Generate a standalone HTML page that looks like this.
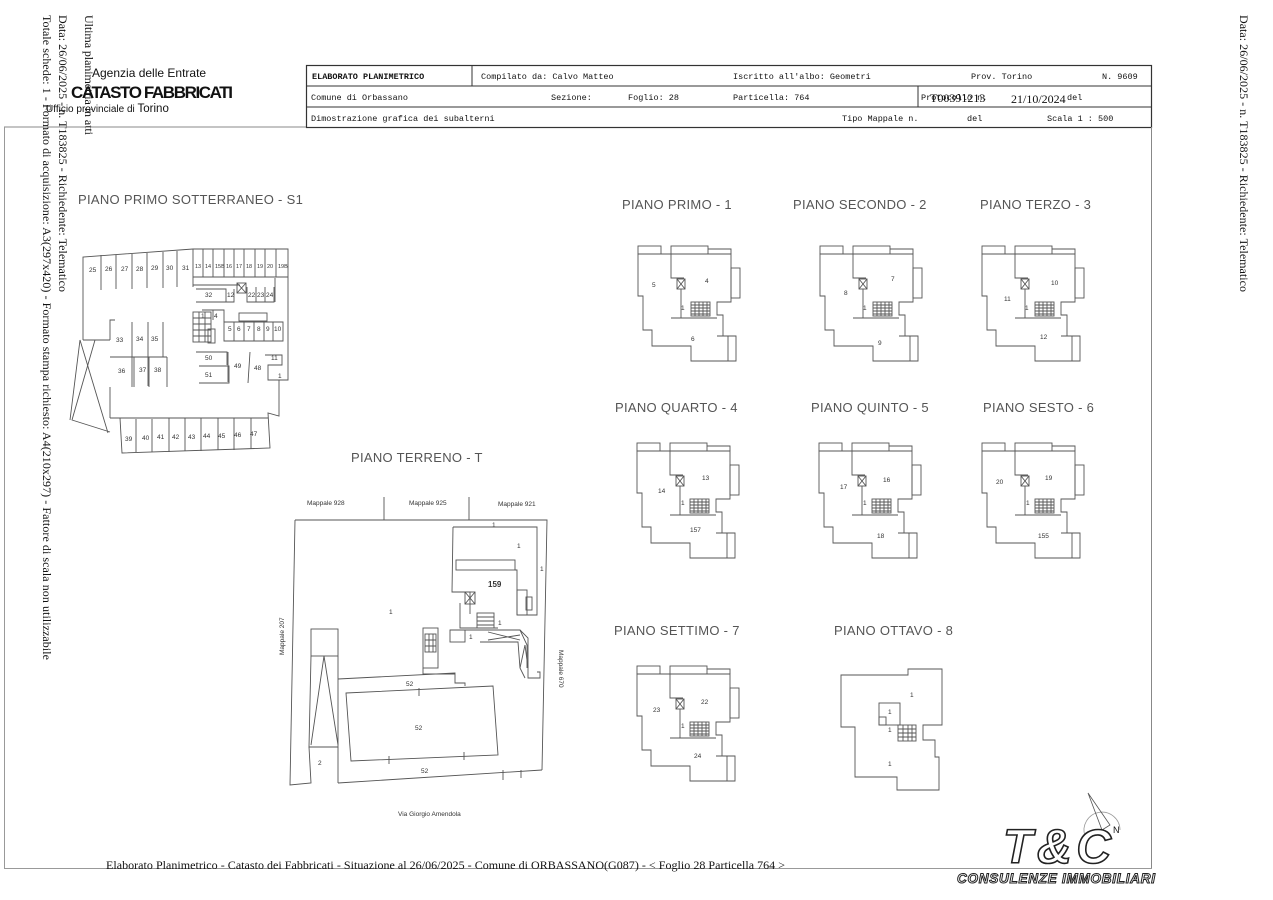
<!DOCTYPE html>
<html><head><meta charset="utf-8"><style>
html,body{margin:0;padding:0;background:#fff;}
svg{display:block;}
.m{font-family:"Liberation Mono",monospace;font-size:8.5px;fill:#111;}
.t{font-family:"Liberation Sans",sans-serif;font-size:13px;fill:#555;letter-spacing:0.3px;}
.n{font-family:"Liberation Sans",sans-serif;font-size:6.5px;fill:#333;}
.s{font-family:"Liberation Serif",serif;font-size:12px;fill:#111;}
.p{fill:none;stroke:#555;stroke-width:0.9;}
</style></head><body>
<svg width="1273" height="900" viewBox="0 0 1273 900" xmlns="http://www.w3.org/2000/svg">
<defs>
<g id="fp">
 <rect x="0" y="0" width="23" height="8" class="p"/>
 <rect x="33" y="0" width="37" height="8" class="p"/>
 <polyline points="70,3 93,3 93,8" class="p"/>
 <polygon points="0,8 93,8 93,56 79,56 79,69 85,69 85,90 98,90 98,115 53,115 53,100 14,100 14,84 5,84 5,50 0,50" class="p"/>
 <rect x="93" y="22" width="9" height="30" class="p"/>
 <polyline points="33,8 33,32 46,32" class="p"/>
 <rect x="39" y="33" width="8" height="10" class="p"/>
 <path d="M39,33 L47,43 M47,33 L39,43" class="p"/>
 <line x1="43" y1="43" x2="43" y2="72" class="p"/>
 <line x1="33" y1="72" x2="79" y2="72" class="p"/>
 <rect x="53" y="56" width="19" height="14" class="p"/>
 <path d="M53,59 H72 M53,62 H72 M53,65 H72 M53,68 H72 M57,56 V70 M61,56 V70 M65,56 V70 M69,56 V70" class="p" stroke-width="0.6"/>
 <line x1="79" y1="90" x2="98" y2="90" class="p"/>
 <line x1="90" y1="90" x2="90" y2="115" class="p"/>
</g>
</defs>

<text class="s" transform="translate(85,15) rotate(90)" textLength="120">Ultima planimetria in atti</text>
<text class="s" transform="translate(59,15) rotate(90)" textLength="277">Data: 26/06/2025 - n. T183825 - Richiedente: Telematico</text>
<text class="s" transform="translate(43,15) rotate(90)" textLength="645">Totale schede: 1 - Formato di acquisizione: A3(297x420) - Formato stampa richiesto: A4(210x297) - Fattore di scala non utilizzabile</text>
<text class="s" transform="translate(1240,15) rotate(90)" textLength="277">Data: 26/06/2025 - n. T183825 - Richiedente: Telematico</text>

<text x="92" y="77" font-family="Liberation Sans,sans-serif" font-size="12" fill="#111">Agenzia delle Entrate</text>
<text x="71" y="98" font-family="Liberation Sans,sans-serif" font-size="17" font-weight="bold" fill="#111" textLength="162">CATASTO FABBRICATI</text>
<text x="46" y="112" font-family="Liberation Sans,sans-serif" font-size="10" fill="#111">Ufficio provinciale di <tspan font-size="11.5">Torino</tspan></text>

<rect x="306.5" y="65.5" width="845" height="62" fill="none" stroke="#333" stroke-width="1.2"/>
<line x1="306" y1="86" x2="1152" y2="86" stroke="#333"/>
<line x1="306" y1="107" x2="1152" y2="107" stroke="#333"/>
<line x1="472" y1="65" x2="472" y2="86" stroke="#333"/>
<line x1="918" y1="86" x2="918" y2="107" stroke="#333"/>
<text x="312" y="79" class="m" font-size="10" font-weight="bold">ELABORATO PLANIMETRICO</text>
<text x="481" y="79" class="m">Compilato da: Calvo Matteo</text>
<text x="733" y="79" class="m">Iscritto all'albo: Geometri</text>
<text x="971" y="79" class="m">Prov. Torino</text>
<text x="1102" y="79" class="m">N. 9609</text>
<text x="311" y="100" class="m">Comune di Orbassano</text>
<text x="551" y="100" class="m">Sezione:</text>
<text x="628" y="100" class="m">Foglio: 28</text>
<text x="733" y="100" class="m">Particella: 764</text>
<text x="921" y="100" class="m">Protocollo n.</text>
<text x="930" y="102" class="s" font-size="10">T00391213</text>
<text x="1011" y="103" class="s" font-size="10">21/10/2024</text>
<text x="1067" y="100" class="m">del</text>
<text x="311" y="121" class="m">Dimostrazione grafica dei subalterni</text>
<text x="842" y="121" class="m">Tipo Mappale n.</text>
<text x="967" y="121" class="m">del</text>
<text x="1047" y="121" class="m">Scala 1 : 500</text>

<polyline points="4,127 306,127" fill="none" stroke="#888"/>
<line x1="4.5" y1="127" x2="4.5" y2="868" stroke="#999"/>
<line x1="1151.5" y1="127" x2="1151.5" y2="868" stroke="#888"/>
<line x1="4" y1="868.5" x2="1152" y2="868.5" stroke="#999"/>

<text x="78" y="204" class="t">PIANO PRIMO SOTTERRANEO - S1</text>
<text x="351" y="462" class="t">PIANO TERRENO - T</text>
<text x="622" y="209" class="t">PIANO PRIMO - 1</text>
<text x="793" y="209" class="t">PIANO SECONDO - 2</text>
<text x="980" y="209" class="t">PIANO TERZO - 3</text>
<text x="615" y="412" class="t">PIANO QUARTO - 4</text>
<text x="811" y="412" class="t">PIANO QUINTO - 5</text>
<text x="983" y="412" class="t">PIANO SESTO - 6</text>
<text x="614" y="635" class="t">PIANO SETTIMO - 7</text>
<text x="834" y="635" class="t">PIANO OTTAVO - 8</text>

<use href="#fp" x="638" y="246"/>
<use href="#fp" x="820" y="246"/>
<use href="#fp" x="982" y="246"/>
<use href="#fp" x="637" y="443"/>
<use href="#fp" x="819" y="443"/>
<use href="#fp" x="982" y="443"/>
<use href="#fp" x="637" y="666"/>
<g class="n">
<text x="652" y="287">5</text><text x="705" y="283">4</text><text x="691" y="341">6</text><text x="681" y="310">1</text>
<text x="844" y="295">8</text><text x="891" y="281">7</text><text x="878" y="345">9</text><text x="863" y="310">1</text>
<text x="1004" y="301">11</text><text x="1051" y="285">10</text><text x="1040" y="339">12</text><text x="1025" y="310">1</text>
<text x="658" y="493">14</text><text x="702" y="480">13</text><text x="690" y="532">157</text><text x="681" y="505">1</text>
<text x="840" y="489">17</text><text x="883" y="482">16</text><text x="877" y="538">18</text><text x="863" y="505">1</text>
<text x="996" y="484">20</text><text x="1045" y="480">19</text><text x="1038" y="538">155</text><text x="1026" y="505">1</text>
<text x="653" y="712">23</text><text x="701" y="704">22</text><text x="694" y="758">24</text><text x="681" y="728">1</text>
</g>

<polygon points="841,675 908,675 908,669 942,669 942,725 923,725 923,740 935,740 935,757 939,757 939,790 897,790 897,777 855,777 855,727 841,727" class="p"/>
<rect x="879" y="703" width="21" height="22" class="p"/>
<rect x="879" y="717" width="7" height="8" class="p"/>
<rect x="898" y="725" width="18" height="16" class="p"/>
<path d="M898,729H916M898,733H916M898,737H916M903,725V741M908,725V741M912,725V741" class="p" stroke-width="0.6"/>
<g class="n"><text x="910" y="697">1</text><text x="888" y="714">1</text><text x="888" y="732">1</text><text x="888" y="766">1</text></g>

<g class="p">
<polyline points="83,340 83,257 193,249 288,249 288,380 279,380 279,416 268,413 270,448 122,453 120,418 110,418"/>
<polyline points="70,420 80,340 108,433"/>
<polyline points="95,340 72,420 110,432"/>
<line x1="83" y1="340" x2="110" y2="340"/>
<polyline points="110,340 110,320 115,320"/>
<line x1="110" y1="387" x2="110" y2="418"/>
<path d="M101,255V290M116,255V289M132,254V289M147,253V288M163,252V288M177,251V287M193,249V287"/>
<path d="M193,277H288M203,249V277M213,249V277M224,249V277M234,249V277M244,249V277M255,249V277M265,249V277M276,249V277"/>
<path d="M193,285H240M196,289H226V302H196M226,289V302H234V289"/>
<rect x="237" y="283" width="9" height="10"/><path d="M237,283L246,293M246,283L237,293"/>
<path d="M247,287V302H274V287M256,287V302M265,287V302M275,278V302"/>
<rect x="193" y="312" width="18" height="30"/>
<path d="M193,318H211M193,324H211M193,330H211M193,336H211M199,312V342M205,312V342"/>
<path d="M202,310H224V322M213,310V320"/>
<rect x="208" y="329" width="7" height="14"/>
<path d="M224,322H283V341H224ZM234,322V341M244,322V341M254,322V341M264,322V341M273,322V341"/>
<rect x="239" y="313" width="28" height="8"/>
<path d="M196,352H227V365M199,366H229V383H199M228,352V382M250,352L248,383M265,355H282V365H268V380H288"/>
<path d="M132,322V387M148,322V386M163,322V357M110,357H167M134,357V387M149,357V387M167,357V387"/>
<path d="M120,418H268M136,419V452M152,419V452M169,418V452M185,418V451M201,418V451M218,418V450M234,418V450M251,418V449"/>
</g>
<g class="n">
<text x="89" y="272">25</text><text x="105" y="271">26</text><text x="121" y="271">27</text><text x="136" y="271">28</text><text x="151" y="270">29</text><text x="166" y="270">30</text><text x="182" y="270">31</text>
<g font-size="5.5"><text x="195" y="268">13</text><text x="205" y="268">14</text><text x="215" y="268">15B</text><text x="226" y="268">16</text><text x="236" y="268">17</text><text x="246" y="268">18</text><text x="257" y="268">19</text><text x="267" y="268">20</text><text x="278" y="268">19B</text></g>
<text x="205" y="297">32</text><text x="227" y="297">12</text><text x="248" y="297">22</text><text x="257" y="297">23</text><text x="266" y="297">24</text>
<text x="201" y="318">1</text><text x="214" y="318">4</text>
<text x="228" y="331">5</text><text x="237" y="331">6</text><text x="247" y="331">7</text><text x="257" y="331">8</text><text x="266" y="331">9</text><text x="274" y="331">10</text>
<text x="116" y="342">33</text><text x="136" y="341">34</text><text x="151" y="341">35</text>
<text x="118" y="373">36</text><text x="139" y="372">37</text><text x="154" y="372">38</text>
<text x="205" y="360">50</text><text x="205" y="377">51</text><text x="234" y="368">49</text><text x="254" y="370">48</text><text x="271" y="360">11</text><text x="278" y="378">1</text>
<text x="125" y="441">39</text><text x="142" y="440">40</text><text x="157" y="439">41</text><text x="172" y="439">42</text><text x="188" y="439">43</text><text x="203" y="438">44</text><text x="218" y="438">45</text><text x="234" y="437">46</text><text x="250" y="436">47</text>
</g>

<g class="p">
<polyline points="295,520 547,520 542,770"/>
<polyline points="295,520 290,785 311,783 309,747"/>
<line x1="338" y1="783" x2="542" y2="770"/>
<line x1="384" y1="497" x2="384" y2="520"/><line x1="469" y1="497" x2="469" y2="520"/>
<rect x="311" y="629" width="27" height="27"/>
<polyline points="311,656 309,747 338,747 338,656"/>
<path d="M324,656L311,745M324,656L338,745"/>
<polyline points="338,747 338,783"/>
<polyline points="338,679 455,673 455,683 465,683 465,686"/>
<polygon points="346,693 493,686 498,755 351,761"/>
<path d="M419,688V696M389,756V764M464,752V760M503,770V780M521,770V778"/>
<polyline points="453,527 537,527 537,615 517,615"/>
<polyline points="453,527 452,592 470,592 470,614"/>
<rect x="456" y="560" width="59" height="10"/>
<polyline points="515,570 517,570 517,615"/>
<rect x="465" y="592" width="10" height="12"/><path d="M465,592L475,604M475,592L465,604"/>
<rect x="477" y="613" width="17" height="15"/><path d="M477,617H494M477,621H494M477,625H494"/>
<rect x="517" y="590" width="10" height="25"/><rect x="526" y="597" width="6" height="13"/>
<polyline points="460,603 460,628 498,628"/>
<polyline points="450,630 520,630 528,638 528,678 540,678 540,672 537,672"/>
<rect x="450" y="630" width="15" height="12"/>
<path d="M480,630H520L527,645L527,668M480,642H518L520,668L525,678"/>
<path d="M488,632L520,640M488,640L520,635M525,645L520,668M525,645L528,668"/>
<rect x="423" y="628" width="15" height="40"/>
<rect x="425" y="634" width="11" height="18"/><path d="M425,640H436M425,646H436M429,634V652M433,634V652"/>
<polyline points="423,668 423,674 455,674"/>
</g>
<g class="n">
<text x="307" y="505">Mappale 928</text><text x="409" y="505">Mappale 925</text><text x="498" y="506">Mappale 921</text>
<text transform="translate(284,655) rotate(-90)">Mappale 207</text>
<text transform="translate(559,650) rotate(90)">Mappale 670</text>
<text x="492" y="527">1</text><text x="517" y="548">1</text><text x="540" y="571">1</text>
<text x="488" y="587" font-weight="bold" font-size="8">159</text>
<text x="389" y="614">1</text><text x="469" y="639">1</text><text x="498" y="625">1</text>
<text x="406" y="686">52</text><text x="415" y="730">52</text><text x="421" y="773">52</text><text x="318" y="765">2</text>
<text x="398" y="816">Via Giorgio Amendola</text>
</g>

<text x="106" y="869" class="s" font-size="11.5" textLength="679">Elaborato Planimetrico - Catasto dei Fabbricati - Situazione al 26/06/2025 - Comune di ORBASSANO(G087) - &lt; Foglio 28 Particella 764 &gt;</text>

<path d="M1085,836 A18,18 0 1 1 1120,830" fill="none" stroke="#999" stroke-width="0.8"/>
<path d="M1088,793L1110,825L1102,830Z" fill="none" stroke="#555" stroke-width="0.8"/>
<text x="1003" y="863" font-family="Liberation Sans,sans-serif" font-size="48" font-style="italic" font-weight="bold" fill="#fff" stroke="#222" stroke-width="1.6" textLength="108">T&amp;C</text>
<text x="1113" y="833" font-family="Liberation Sans,sans-serif" font-size="9" fill="#111">N</text>
<text x="957" y="883" font-family="Liberation Sans,sans-serif" font-size="13.5" font-style="italic" font-weight="bold" fill="#fff" stroke="#222" stroke-width="1" textLength="198">CONSULENZE IMMOBILIARI</text>
</svg>
</body></html>
